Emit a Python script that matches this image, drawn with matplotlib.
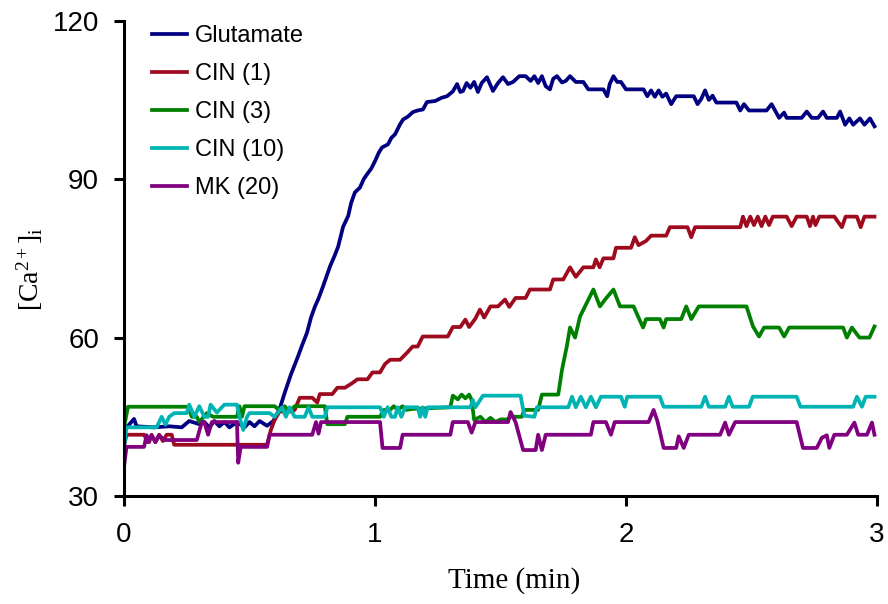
import matplotlib
matplotlib.use("Agg")
import matplotlib.pyplot as plt

plt.rcParams['font.family'] = ['Liberation Sans', 'DejaVu Sans']
plt.rcParams['mathtext.fontset'] = 'custom'
plt.rcParams['mathtext.rm'] = 'Liberation Serif'
plt.rcParams['mathtext.it'] = 'Liberation Serif:italic'

# [Ca2+]i traces, time in minutes
glu_t = [0.00, 0.02, 0.04, 0.05, 0.12, 0.18, 0.23, 0.26, 0.30, 0.32, 0.34, 0.36, 0.38, 0.40, 0.42, 0.45,
         0.48, 0.50, 0.52, 0.54, 0.57, 0.595, 0.62, 0.64, 0.665, 0.693, 0.71, 0.729, 0.745, 0.761, 0.775,
         0.793, 0.81, 0.821, 0.84, 0.853, 0.873, 0.893, 0.905, 0.92, 0.94, 0.955, 0.968, 0.985, 1.0, 1.015,
         1.028, 1.052, 1.065, 1.08, 1.10, 1.112, 1.13, 1.151, 1.17, 1.191, 1.207, 1.24, 1.265, 1.287, 1.31,
         1.327, 1.34, 1.351, 1.365, 1.38, 1.395, 1.41, 1.425, 1.446, 1.47, 1.49, 1.51, 1.53, 1.55, 1.575,
         1.60, 1.62, 1.635, 1.65, 1.665, 1.68, 1.697, 1.71, 1.725, 1.745, 1.76, 1.777, 1.80, 1.83, 1.85,
         1.91, 1.925, 1.935, 1.95, 1.965, 1.98, 2.0, 2.07, 2.085, 2.10, 2.115, 2.13, 2.145, 2.16, 2.18,
         2.20, 2.27, 2.285, 2.30, 2.315, 2.33, 2.345, 2.36, 2.40, 2.44, 2.455, 2.47, 2.49, 2.56, 2.58,
         2.61, 2.63, 2.64, 2.70, 2.72, 2.74, 2.765, 2.785, 2.80, 2.84, 2.853, 2.873, 2.89, 2.905, 2.932,
         2.95, 2.972, 2.99]
glu_v = [42.5, 43.5, 44.6, 43.2, 43.0, 43.2, 43.0, 44.2, 43.6, 44.0, 43.0, 44.2, 43.2, 44.0, 43.0, 44.0,
         43.0, 44.0, 43.2, 44.2, 43.3, 44.2, 46.5, 49.5, 53.0, 56.4, 58.6, 60.9, 63.8, 65.9, 67.4,
         69.7, 72.0, 73.5, 75.6, 77.2, 81.0, 83.0, 85.5, 87.5, 88.4, 90.0, 90.9, 92.0, 93.4, 95.0,
         96.0, 96.6, 97.8, 98.5, 100.4, 101.3, 101.8, 102.7, 103.0, 103.2, 104.6, 104.8, 105.4, 105.7, 106.6,
         108.0, 106.5, 106.7, 108.2, 107.3, 108.4, 106.5, 108.2, 109.3, 106.7, 108.2, 109.3, 108.0, 108.4, 109.5,
         109.5, 108.6, 109.5, 108.2, 109.5, 107.6, 107.0, 109.0, 109.5, 108.3, 108.6, 109.5, 108.4, 108.4, 107.0,
         107.0, 105.7, 108.0, 109.5, 108.4, 108.4, 107.0, 107.0, 105.7, 106.8, 105.6, 106.8, 105.6, 106.2, 104.2,
         105.7, 105.7, 104.2, 105.2, 106.8, 105.0, 105.8, 104.5, 104.5, 104.5, 103.0, 104.2, 103.0, 103.0, 104.2,
         101.6, 102.6, 101.6, 101.6, 102.8, 101.6, 101.6, 102.8, 101.6, 101.6, 102.8, 100.3, 101.5, 100.3, 101.5,
         100.3, 101.5, 100.0]

cin1_t = [0.00, 0.01, 0.08, 0.095, 0.11, 0.125, 0.14, 0.155, 0.17, 0.19, 0.20, 0.57, 0.585, 0.60, 0.62,
          0.66, 0.68, 0.70, 0.75, 0.77, 0.78, 0.83, 0.85, 0.88, 0.91, 0.93, 0.97, 0.99, 1.02, 1.04, 1.06,
          1.10, 1.127, 1.15, 1.17, 1.19, 1.29, 1.31, 1.34, 1.36, 1.375, 1.40, 1.418, 1.435, 1.46, 1.49,
          1.518, 1.535, 1.56, 1.60, 1.617, 1.697, 1.71, 1.75, 1.777, 1.80, 1.83, 1.87, 1.88, 1.895, 1.91,
          1.95, 1.96, 2.02, 2.035, 2.05, 2.08, 2.10, 2.16, 2.175, 2.245, 2.26, 2.275, 2.455, 2.466, 2.48,
          2.495, 2.51, 2.525, 2.54, 2.555, 2.57, 2.585, 2.64, 2.66, 2.68, 2.72, 2.733, 2.745, 2.755, 2.77,
          2.83, 2.86, 2.875, 2.92, 2.935, 2.95, 2.99]
cin1_v = [39.5, 41.6, 41.6, 40.2, 41.6, 40.2, 41.6, 40.4, 41.6, 41.6, 39.7, 39.7, 42.5, 44.4, 46.0,
          46.0, 46.3, 48.6, 48.6, 47.7, 49.3, 49.3, 50.5, 50.5, 51.4, 52.1, 52.1, 53.4, 53.4, 55.0, 55.8,
          55.8, 57.1, 58.3, 58.3, 60.2, 60.2, 62.0, 62.0, 63.4, 62.0, 63.6, 65.3, 63.8, 65.9, 65.9,
          67.2, 65.8, 67.5, 67.5, 69.1, 69.1, 71.0, 71.0, 73.3, 71.5, 73.3, 73.3, 74.8, 73.3, 75.0,
          75.0, 77.0, 77.0, 79.0, 77.5, 78.3, 79.3, 79.3, 80.9, 80.9, 79.0, 80.9, 80.9, 82.9, 81.1,
          82.9, 81.3, 82.9, 81.1, 82.9, 81.3, 82.9, 82.9, 81.1, 82.9, 82.9, 81.1, 82.9, 81.3, 82.9,
          82.9, 80.9, 82.9, 82.9, 80.9, 82.9, 82.9]

cin3_t = [0.00, 0.016, 0.255, 0.27, 0.29, 0.30, 0.33, 0.355, 0.45, 0.46, 0.47, 0.48, 0.60, 0.62, 0.64,
          0.66, 0.68, 0.80, 0.81, 0.88, 0.89, 1.02, 1.035, 1.06, 1.075, 1.09, 1.11, 1.125, 1.15, 1.30,
          1.31, 1.33, 1.345, 1.36, 1.375, 1.385, 1.395, 1.42, 1.44, 1.46, 1.48, 1.50, 1.53, 1.54, 1.585,
          1.595, 1.65, 1.665, 1.73, 1.745, 1.764, 1.777, 1.797, 1.817, 1.844, 1.87, 1.896, 1.92, 1.95,
          1.976, 2.03, 2.068, 2.08, 2.135, 2.15, 2.16, 2.22, 2.24, 2.26, 2.29, 2.48, 2.506, 2.53, 2.55,
          2.61, 2.63, 2.65, 2.865, 2.88, 2.90, 2.93, 2.97, 2.99]
cin3_v = [43.0, 46.9, 46.9, 45.0, 45.0, 44.0, 45.7, 45.0, 45.0, 47.0, 45.0, 47.0, 47.0, 46.2, 47.0,
          46.0, 47.0, 47.0, 43.6, 43.6, 45.0, 45.0, 46.3, 46.3, 47.0, 46.3, 47.0, 46.3, 46.5, 46.8,
          49.0, 48.3, 49.2, 48.5, 49.2, 48.2, 44.4, 45.0, 44.0, 44.8, 44.0, 44.5, 44.5, 45.0, 45.0,
          46.3, 46.3, 49.2, 49.2, 53.9, 58.3, 61.9, 60.0, 64.0, 66.6, 69.1, 65.9, 67.4, 69.1,
          65.9, 65.9, 61.9, 63.5, 63.5, 61.9, 63.5, 63.5, 65.9, 63.5, 65.9, 65.9, 62.1, 60.2, 61.9,
          61.9, 60.2, 61.9, 61.9, 60.0, 61.9, 60.0, 60.0, 62.1]

cin10_t = [0.00, 0.01, 0.13, 0.15, 0.165, 0.18, 0.20, 0.25, 0.26, 0.28, 0.30, 0.32, 0.335, 0.345, 0.37,
           0.40, 0.45, 0.46, 0.475, 0.49, 0.50, 0.58, 0.60, 0.63, 0.645, 0.66, 0.68, 0.72, 0.735, 0.75,
           0.80, 0.81, 1.02, 1.035, 1.05, 1.065, 1.08, 1.09, 1.105, 1.12, 1.17, 1.18, 1.19, 1.20, 1.21,
           1.38, 1.39, 1.40, 1.43, 1.58, 1.595, 1.635, 1.645, 1.77, 1.785, 1.80, 1.82, 1.84, 1.86, 1.88,
           1.90, 1.98, 1.995, 2.005, 2.135, 2.15, 2.30, 2.315, 2.33, 2.395, 2.41, 2.425, 2.49, 2.505,
           2.68, 2.695, 2.905, 2.92, 2.94, 2.955, 2.99]
cin10_v = [39.0, 43.0, 43.0, 45.0, 43.5, 45.0, 45.7, 45.7, 47.3, 45.0, 47.0, 45.0, 45.0, 47.3, 45.8,
           47.3, 47.3, 45.0, 42.5, 45.0, 45.7, 45.7, 45.0, 46.8, 45.0, 46.8, 45.0, 45.0, 46.8, 45.0,
           45.0, 46.8, 46.8, 45.0, 46.8, 45.0, 45.0, 46.8, 45.0, 46.8, 46.8, 45.0, 46.8, 45.0, 46.8,
           46.8, 48.2, 46.8, 49.0, 49.0, 45.2, 45.0, 46.8, 46.8, 48.8, 46.8, 48.8, 46.8, 48.8, 46.8,
           48.8, 48.8, 46.9, 48.8, 48.8, 46.9, 46.9, 48.8, 46.9, 46.9, 48.8, 46.9, 46.9, 48.8,
           48.8, 46.9, 46.9, 48.8, 46.9, 48.8, 48.8]

mk20_t = [0.00, 0.01, 0.08, 0.09, 0.10, 0.11, 0.125, 0.14, 0.16, 0.29, 0.30, 0.31, 0.32, 0.335, 0.35,
          0.45, 0.455, 0.465, 0.57, 0.58, 0.75, 0.765, 0.775, 0.785, 1.02, 1.03, 1.10, 1.11, 1.30, 1.31,
          1.37, 1.385, 1.40, 1.53, 1.54, 1.56, 1.59, 1.64, 1.65, 1.665, 1.68, 1.86, 1.87, 1.92, 1.94,
          1.955, 2.09, 2.11, 2.125, 2.15, 2.20, 2.21, 2.23, 2.25, 2.375, 2.395, 2.41, 2.435, 2.68, 2.705,
          2.76, 2.78, 2.80, 2.81, 2.83, 2.88, 2.91, 2.925, 2.96, 2.98, 2.99]
mk20_v = [35.5, 39.3, 39.3, 41.5, 40.2, 41.5, 40.2, 41.5, 40.6, 40.6, 42.3, 44.0, 44.0, 41.6, 44.0,
          44.0, 36.3, 39.3, 39.3, 41.6, 41.6, 44.0, 41.8, 44.0, 44.0, 39.1, 39.1, 41.6, 41.6, 44.0,
          44.0, 42.0, 44.0, 44.0, 45.9, 44.0, 38.7, 38.7, 41.6, 38.7, 41.6, 41.6, 44.0, 44.0, 41.6,
          44.0, 44.0, 46.3, 44.2, 39.1, 39.1, 41.3, 39.1, 41.6, 41.6, 43.9, 41.6, 44.0, 44.0, 39.1,
          39.1, 41.0, 41.5, 39.1, 41.6, 41.6, 43.9, 41.6, 41.6, 43.9, 41.6]

series = [
    (glu_t, glu_v, 'Glutamate', '#000080'),
    (cin1_t, cin1_v, 'CIN (1)', '#9E0A1E'),
    (cin3_t, cin3_v, 'CIN (3)', '#008000'),
    (cin10_t, cin10_v, 'CIN (10)', '#00B4B4'),
    (mk20_t, mk20_v, 'MK (20)', '#800080'),
]

fig = plt.figure(figsize=(8.88, 6.04), dpi=100)
ax = fig.add_axes([124 / 888, 1 - 496 / 604, 753 / 888, 475.3 / 604])

for t, v, name, col in series:
    ax.plot(t, v, color=col, lw=2.7, label=name, solid_joinstyle='round')

ax.set_xlim(0, 3)
ax.set_ylim(30, 120)
ax.set_xticks([0, 1, 2, 3])
ax.set_yticks([30, 60, 90, 120])
for s in ['top', 'right']:
    ax.spines[s].set_visible(False)
for s in ['left', 'bottom']:
    ax.spines[s].set_linewidth(2.2)
ax.tick_params(direction='out', length=7, width=2.2, labelsize=20)
ax.tick_params(axis='y', pad=11)
ax.tick_params(axis='x', pad=12)

fig.text(514 / 888, 1 - 581 / 604, 'Time (min)', ha='center', va='center',
         fontsize=21, family='Liberation Serif')
fig.text(30 / 888, 1 - 269 / 604, r'[Ca$^{\mathrm{2+}}$]$_{\mathrm{i}}$', ha='center', va='center',
         rotation=90, fontsize=20, family='Liberation Serif')

ax.legend(loc='upper left', bbox_to_anchor=(152 / 888, 1 - 25 / 604), bbox_transform=fig.transFigure,
          frameon=False, fontsize=17, handlelength=1.5, handletextpad=0.3, labelspacing=0.68,
          borderpad=0, borderaxespad=0)

fig.savefig('out.png', dpi=100)
